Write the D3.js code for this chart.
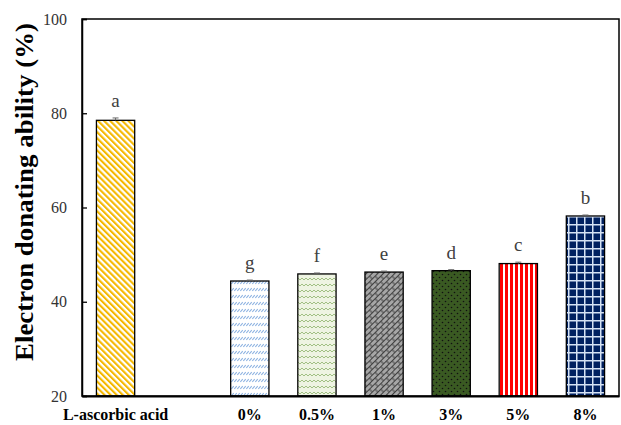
<!DOCTYPE html>
<html><head><meta charset="utf-8">
<script src="https://cdn.jsdelivr.net/npm/d3@7"></script>
<style>body{margin:0;background:#fff}svg{display:block}</style>
</head><body>
<script>
const categories = ["L-ascorbic acid", "", "0%", "0.5%", "1%", "3%", "5%", "8%"];
const values = [78.5, null, 44.4, 45.9, 46.3, 46.6, 48.1, 58.2];
const errors = [0.5, null, 0.2, 0.2, 0.2, 0.2, 0.3, 0.2];
const letters = ["a", "", "g", "f", "e", "d", "c", "b"];
const yTicks = [20, 40, 60, 80, 100];

const W = 621, H = 425;
const m = {left: 82, right: 2, top: 19, bottom: 29};
const svg = d3.select("body").append("svg").attr("width", W).attr("height", H);
const defs = svg.append("defs");

function pat(id, w, h, tf) {
  const p = defs.append("pattern").attr("id", id).attr("patternUnits", "userSpaceOnUse")
    .attr("width", w).attr("height", h);
  if (tf) p.attr("patternTransform", tf);
  return p;
}
let p;
p = pat("p0", 4.3, 10, "rotate(-45)");
p.append("rect").attr("width", 4.3).attr("height", 10).attr("fill", "#fff");
p.append("rect").attr("width", 2.1).attr("height", 10).attr("fill", "#F5B800");

p = pat("p2", 3, 7);
p.append("rect").attr("width", 3).attr("height", 7).attr("fill", "#fff");
p.append("path").attr("d", "M0.3,4 L2.7,1.2").attr("stroke", "#8DB3E2").attr("stroke-width", 1.1);

p = pat("p3", 4, 6);
p.append("rect").attr("width", 4).attr("height", 6).attr("fill", "#EEF4E2");
p.append("path").attr("d", "M0,4 L2,2 L4,4").attr("stroke", "#98BA78").attr("stroke-width", 0.9).attr("fill", "none");

p = pat("p4", 8, 8, "rotate(-45)");
p.append("rect").attr("width", 8).attr("height", 8).attr("fill", "#A6A6A6");
p.append("path").attr("d", "M0,0.5 H8 M0,4.5 H8 M2,0.5 V4.5 M6,4.5 V8").attr("stroke", "#3F3F3F").attr("stroke-width", 1);

p = pat("p5", 6, 6);
p.append("rect").attr("width", 6).attr("height", 6).attr("fill", "#3A5A22");
p.append("circle").attr("cx", 1.5).attr("cy", 1.5).attr("r", 0.8).attr("fill", "#111");
p.append("circle").attr("cx", 4.5).attr("cy", 4.5).attr("r", 0.8).attr("fill", "#111");

p = pat("p6", 5, 10);
p.append("rect").attr("width", 5).attr("height", 10).attr("fill", "#fff");
p.append("rect").attr("width", 3).attr("height", 10).attr("fill", "#FF0000");

p = pat("p7", 8, 8);
p.append("rect").attr("width", 8).attr("height", 8).attr("fill", "#002060");
p.append("path").attr("d", "M0,0.75 H8 M0.75,0 V8").attr("stroke", "#D5E2F4").attr("stroke-width", 1.5);

const pats = ["p0", null, "p2", "p3", "p4", "p5", "p6", "p7"];

const x = d3.scaleBand().domain(categories.map((c, i) => i)).range([m.left, W - m.right]).paddingInner(0.43).paddingOuter(0.215);
const y = d3.scaleLinear().domain([20, 100]).range([H - m.bottom, m.top]);

const data = categories.map((c, i) => ({c, i, v: values[i], e: errors[i], l: letters[i], p: pats[i]})).filter(d => d.v != null);

svg.append("g").selectAll("rect").data(data).join("rect")
  .attr("x", d => x(d.i)).attr("width", x.bandwidth())
  .attr("y", d => y(d.v)).attr("height", d => y(20) - y(d.v))
  .attr("fill", d => `url(#${d.p})`).attr("stroke", "#000").attr("stroke-width", 1.3);

const eb = svg.append("g").attr("stroke", "#666").attr("stroke-width", 1);
data.forEach(d => {
  const cx = x(d.i) + x.bandwidth() / 2;
  eb.append("line").attr("x1", cx).attr("x2", cx).attr("y1", y(d.v)).attr("y2", y(d.v + d.e));
  eb.append("line").attr("x1", cx - 3).attr("x2", cx + 3).attr("y1", y(d.v + d.e)).attr("y2", y(d.v + d.e));
});

svg.append("g").selectAll("text").data(data).join("text")
  .attr("x", d => x(d.i) + x.bandwidth() / 2).attr("y", d => y(d.v + d.e) - 11)
  .attr("text-anchor", "middle").attr("font-family", "'Liberation Serif', serif")
  .attr("font-size", 19).attr("fill", "#404040").text(d => d.l);

svg.append("rect").attr("x", m.left).attr("y", m.top).attr("width", W - m.right - m.left).attr("height", H - m.bottom - m.top)
  .attr("fill", "none").attr("stroke", "#000").attr("stroke-width", 1.5);

const ya = svg.append("g").attr("transform", `translate(${m.left},0)`)
  .call(d3.axisLeft(y).tickValues(yTicks).tickSize(-5).tickPadding(15).tickFormat(d3.format("d")));
ya.select(".domain").attr("stroke-width", 1.5);
ya.selectAll(".tick line").attr("stroke-width", 1.3);
ya.selectAll("text").attr("font-family", "'Liberation Serif', serif").attr("font-size", 16).attr("fill", "#333");

const xa = svg.append("g").attr("transform", `translate(0,${H - m.bottom})`)
  .call(d3.axisBottom(x).tickSize(0).tickPadding(13).tickFormat(i => categories[i]));
xa.select(".domain").attr("stroke-width", 2.2);
xa.selectAll("text").attr("font-family", "'Liberation Serif', serif").attr("font-size", 16).attr("font-weight", "bold").attr("fill", "#000");

svg.append("text").attr("transform", `translate(33,192) rotate(-90)`)
  .attr("text-anchor", "middle").attr("font-family", "'Liberation Serif', serif").attr("font-weight", "bold")
  .attr("font-size", 26).attr("textLength", 338).attr("lengthAdjust", "spacingAndGlyphs").text("Electron donating ability (%)");
</script>
</body></html>
